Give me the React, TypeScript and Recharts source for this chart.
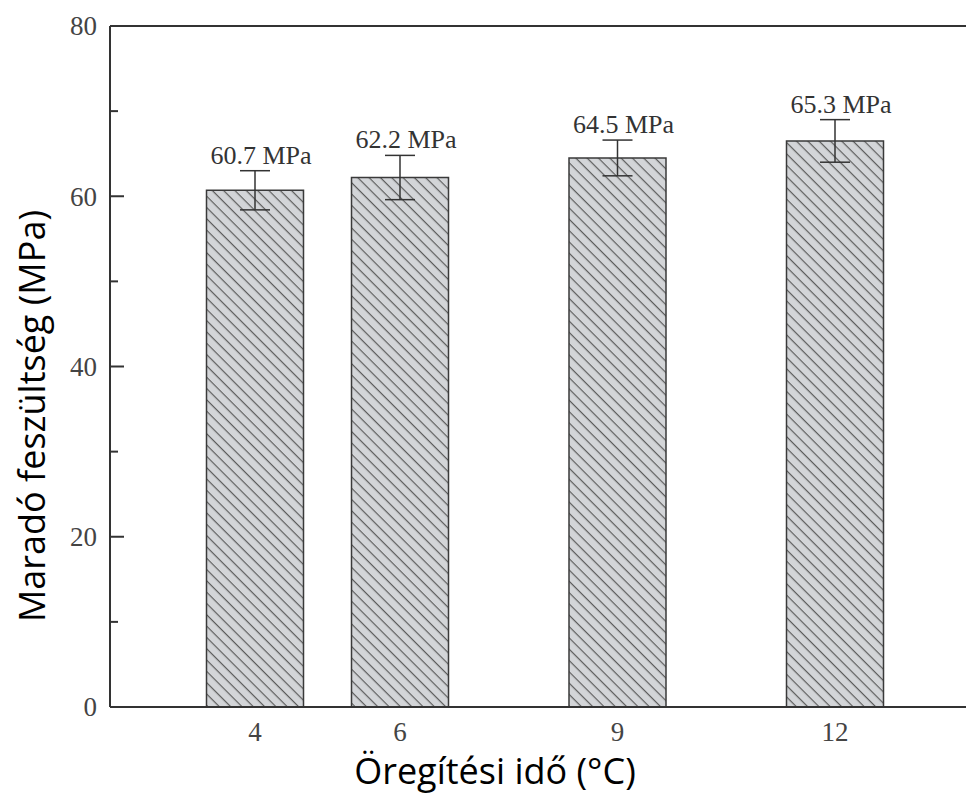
import React from 'react';
import { BarChart, Bar, XAxis, YAxis, ErrorBar, LabelList, ReferenceLine, Label } from 'recharts';

// aging time categories (numeric x positions)
const times = [4, 6, 9, 12];
// residual stress (MPa)
const stress = [60.7, 62.2, 64.5, 66.5];
// error bar half-lengths (MPa)
const errors = [2.3, 2.6, 2.1, 2.5];
// printed labels above the bars
const labelTexts = ['60.7 MPa', '62.2 MPa', '64.5 MPa', '65.3 MPa'];

const xTicks = [4, 6, 9, 12];
const yMajor = [0, 20, 40, 60, 80];
const yMinor = [10, 30, 50, 70];

const data = times.map((t, i) => ({ t, v: stress[i], err: errors[i], label: labelTexts[i] }));

const serif = '"Liberation Serif", "Times New Roman", serif';
const sans = '"Open Sans", "Noto Sans", sans-serif';

const YTick = (props: any) => {
  const { x, y, payload } = props;
  const axisX = x + 13;
  const major = yMajor.includes(payload.value);
  return (
    <g>
      <line x1={axisX} x2={axisX + (major ? 14 : 8)} y1={y} y2={y} stroke="#333" strokeWidth={2} />
      {major && (
        <text x={x} y={y} dy="0.35em" textAnchor="end" fontFamily={serif} fontSize={27} fill="#444">
          {payload.value}
        </text>
      )}
    </g>
  );
};

const BarLabel = (props: any) => {
  const { x, y, width, height, index } = props;
  const d = data[index];
  const errPx = (d.err * height) / d.v;
  return (
    <text
      x={x + width / 2 + 6}
      y={y - errPx - 7}
      textAnchor="middle"
      fontFamily={serif}
      fontSize={26}
      fill="#333"
    >
      {d.label}
    </text>
  );
};

export default function App() {
  return (
    <div style={{ position: 'absolute', left: 0, top: 0, width: 966, height: 795, overflow: 'hidden', background: '#fff' }}>
      <svg width={0} height={0} style={{ position: 'absolute' }}>
        <defs>
          <pattern id="hatch" width="8" height="8" patternUnits="userSpaceOnUse" patternTransform="rotate(45)">
            <rect width="8" height="8" fill="#d3d5d8" />
            <line x1="0" y1="0.6" x2="8" y2="0.6" stroke="#5c5c5c" strokeWidth={1.2} />
          </pattern>
        </defs>
      </svg>
      <BarChart width={1000} height={795} data={data} margin={{ top: 26, right: 20, bottom: 0, left: 0 }}>
        <XAxis
          dataKey="t"
          type="number"
          domain={[2, 14]}
          ticks={xTicks}
          tickLine={false}
          tickMargin={9}
          axisLine={{ stroke: '#333', strokeWidth: 2 }}
          tick={{ fontFamily: serif, fontSize: 27, fill: '#444' }}
          height={88}
        >
          <Label
            content={() => (
              <text x={495} y={784} textAnchor="middle" fontFamily={sans} fontSize={36} fill="#000">
                Öregítési idő (°C)
              </text>
            )}
          />
        </XAxis>
        <YAxis
          type="number"
          domain={[0, 80]}
          ticks={[...yMajor, ...yMinor].sort((a, b) => a - b)}
          width={110}
          tickLine={false}
          tickSize={0}
          tickMargin={13}
          axisLine={{ stroke: '#333', strokeWidth: 2 }}
          tick={<YTick />}
        >
          <Label
            content={() => (
              <text
                x={45}
                y={416}
                transform="rotate(-90 45 416)"
                textAnchor="middle"
                fontFamily={sans}
                fontSize={36}
                fill="#000"
              >
                Maradó feszültség (MPa)
              </text>
            )}
          />
        </YAxis>
        <ReferenceLine y={80} stroke="#333" strokeWidth={2} />
        <Bar dataKey="v" barSize={97} fill="url(#hatch)" stroke="#3a3a3a" strokeWidth={1.5} isAnimationActive={false}>
          <ErrorBar dataKey="err" direction="y" width={15} stroke="#333" strokeWidth={1.5} />
          <LabelList dataKey="label" content={<BarLabel />} />
        </Bar>
      </BarChart>
    </div>
  );
}
